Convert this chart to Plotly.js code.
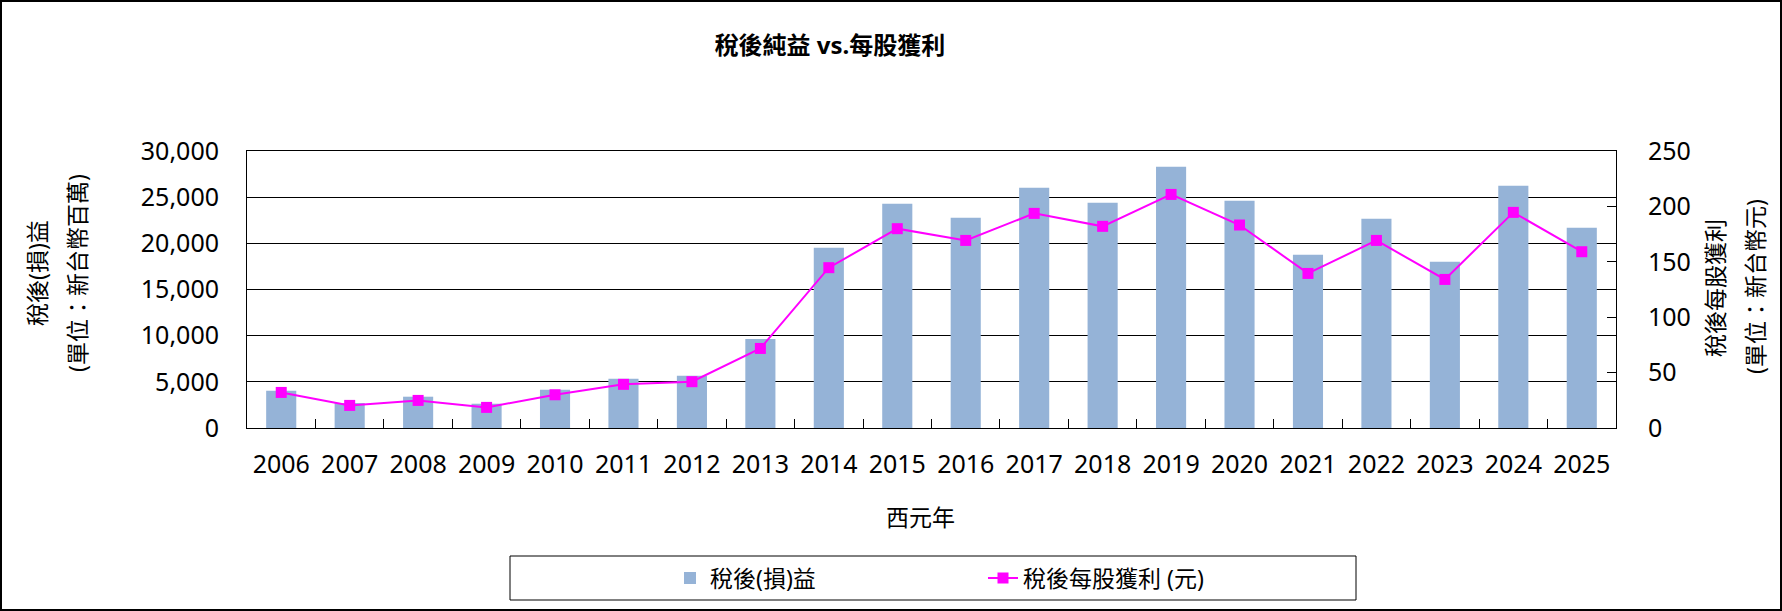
<!DOCTYPE html>
<html>
<head>
<meta charset="utf-8">
<script src="https://cdn.plot.ly/plotly-3.0.1.min.js"></script>
<style>
html,body{margin:0;padding:0;background:#fff;}
#chart{width:1782px;height:611px;}
</style>
</head>
<body>
<div id="chart"></div>
<script>
// ---- data ----
const years = ["2006","2007","2008","2009","2010","2011","2012","2013","2014","2015","2016","2017","2018","2019","2020","2021","2022","2023","2024","2025"];
const netIncome = [4040,2710,3390,2630,4150,5340,5660,9640,19530,24290,22780,26030,24400,28300,24620,18770,22670,18010,26240,21690];
const eps = [32.1,20.4,24.9,18.6,30.0,39.4,41.8,71.8,144.7,179.9,169.3,193.7,182.0,210.8,183.2,139.5,169.3,134.1,194.6,159.1];
const leftTicks = [0,5000,10000,15000,20000,25000,30000];
const rightTicks = [0,50,100,150,200,250];
const seriesNames = ["稅後(損)益","稅後每股獲利 (元)"];
const chartTitle = "稅後純益 vs.每股獲利";
const xTitle = "西元年";
const yTitleLeft = ["稅後(損)益","(單位：新台幣百萬)"];
const yTitleRight = ["稅後每股獲利","(單位：新台幣元)"];

// ---- layout geometry (pixels) ----
const W = 1782, H = 611;
const L = 247, R = 166, T = 151, B = 183;
const pw = W - L - R, ph = H - T - B;
const px = x => (x - L) / pw;          // page px -> paper x
const py = y => (H - B - y) / ph;      // page px (from top) -> paper y

const FONT = '"Noto Sans", "Noto Sans CJK TC", sans-serif';

const traces = [
  {
    type: 'bar', name: seriesNames[0], x: years, y: netIncome,
    marker: {color: '#95B3D7'}, yaxis: 'y'
  },
  {
    type: 'scatter', mode: 'lines+markers', name: seriesNames[1], x: years, y: eps,
    line: {color: '#FF00FF', width: 2},
    marker: {symbol: 'square', size: 11, color: '#FF00FF'},
    yaxis: 'y2'
  }
];

const layout = {
  width: W, height: H,
  margin: {l: L, r: R, t: T, b: B, pad: 0},
  paper_bgcolor: '#fff', plot_bgcolor: '#fff',
  font: {family: FONT, color: '#000', size: 24},
  bargap: 0.56,
  showlegend: true,
  title: {
    text: '<b>' + chartTitle + '</b>',
    font: {family: FONT, size: 24, color: '#000'},
    xref: 'container', yref: 'container',
    x: 830 / W, xanchor: 'center', y: 1 - 46 / H, yanchor: 'middle'
  },
  xaxis: {
    type: 'category', range: [-0.5, years.length - 0.5], autorange: false,
    showline: true, linecolor: '#000', linewidth: 1, mirror: true,
    ticks: 'inside', tickson: 'boundaries', ticklen: 9, tickcolor: '#000',
    showgrid: false, zeroline: false,
    tickfont: {size: 25, family: FONT},
    ticklabelstandoff: 14
  },
  yaxis: {
    range: [0, 30000], tickvals: leftTicks, tickformat: ',d',
    showline: true, linecolor: '#000', linewidth: 1, mirror: true,
    ticks: '', showgrid: true, gridcolor: '#000', gridwidth: 1, zeroline: false,
    tickfont: {size: 25, family: FONT},
    ticklabelstandoff: 22
  },
  yaxis2: {
    overlaying: 'y', side: 'right', range: [0, 250], tickvals: rightTicks,
    showline: true, linecolor: '#000', linewidth: 1,
    ticks: 'inside', ticklen: 9, tickcolor: '#000',
    showgrid: false, zeroline: false,
    tickfont: {size: 25, family: FONT},
    ticklabelstandoff: 26
  },
  legend: {
    orientation: 'h', x: px(670), xanchor: 'left', y: py(578), yanchor: 'middle',
    font: {size: 23, family: FONT}, bgcolor: 'rgba(0,0,0,0)', borderwidth: 0,
    entrywidthmode: 'pixels', entrywidth: 268, traceorder: 'normal'
  },
  annotations: [
    {text: yTitleLeft[0], xref: 'paper', yref: 'paper', x: px(37), y: py(273), textangle: -90, showarrow: false, font: {size: 23}, xanchor: 'center', yanchor: 'middle'},
    {text: yTitleLeft[1], xref: 'paper', yref: 'paper', x: px(77), y: py(273), textangle: -90, showarrow: false, font: {size: 23}, xanchor: 'center', yanchor: 'middle'},
    {text: yTitleRight[0], xref: 'paper', yref: 'paper', x: px(1715), y: py(288), textangle: -90, showarrow: false, font: {size: 23}, xanchor: 'center', yanchor: 'middle'},
    {text: yTitleRight[1], xref: 'paper', yref: 'paper', x: px(1755), y: py(287), textangle: -90, showarrow: false, font: {size: 23}, xanchor: 'center', yanchor: 'middle'},
    {text: xTitle, xref: 'paper', yref: 'paper', x: px(920), y: py(517), showarrow: false, font: {size: 23}, xanchor: 'center', yanchor: 'middle'}
  ],
  shapes: [
    {type: 'rect', xref: 'paper', yref: 'paper', x0: px(510), x1: px(1356), y0: py(556), y1: py(600), line: {color: '#000', width: 1}, fillcolor: 'rgba(0,0,0,0)', layer: 'below'},
    {type: 'rect', xref: 'paper', yref: 'paper', x0: px(1), x1: px(W - 1), y0: py(1), y1: py(H - 1), line: {color: '#000', width: 2}, fillcolor: 'rgba(0,0,0,0)', layer: 'below'}
  ]
};

Plotly.newPlot('chart', traces, layout, {displayModeBar: false, staticPlot: true});
</script>
</body>
</html>
